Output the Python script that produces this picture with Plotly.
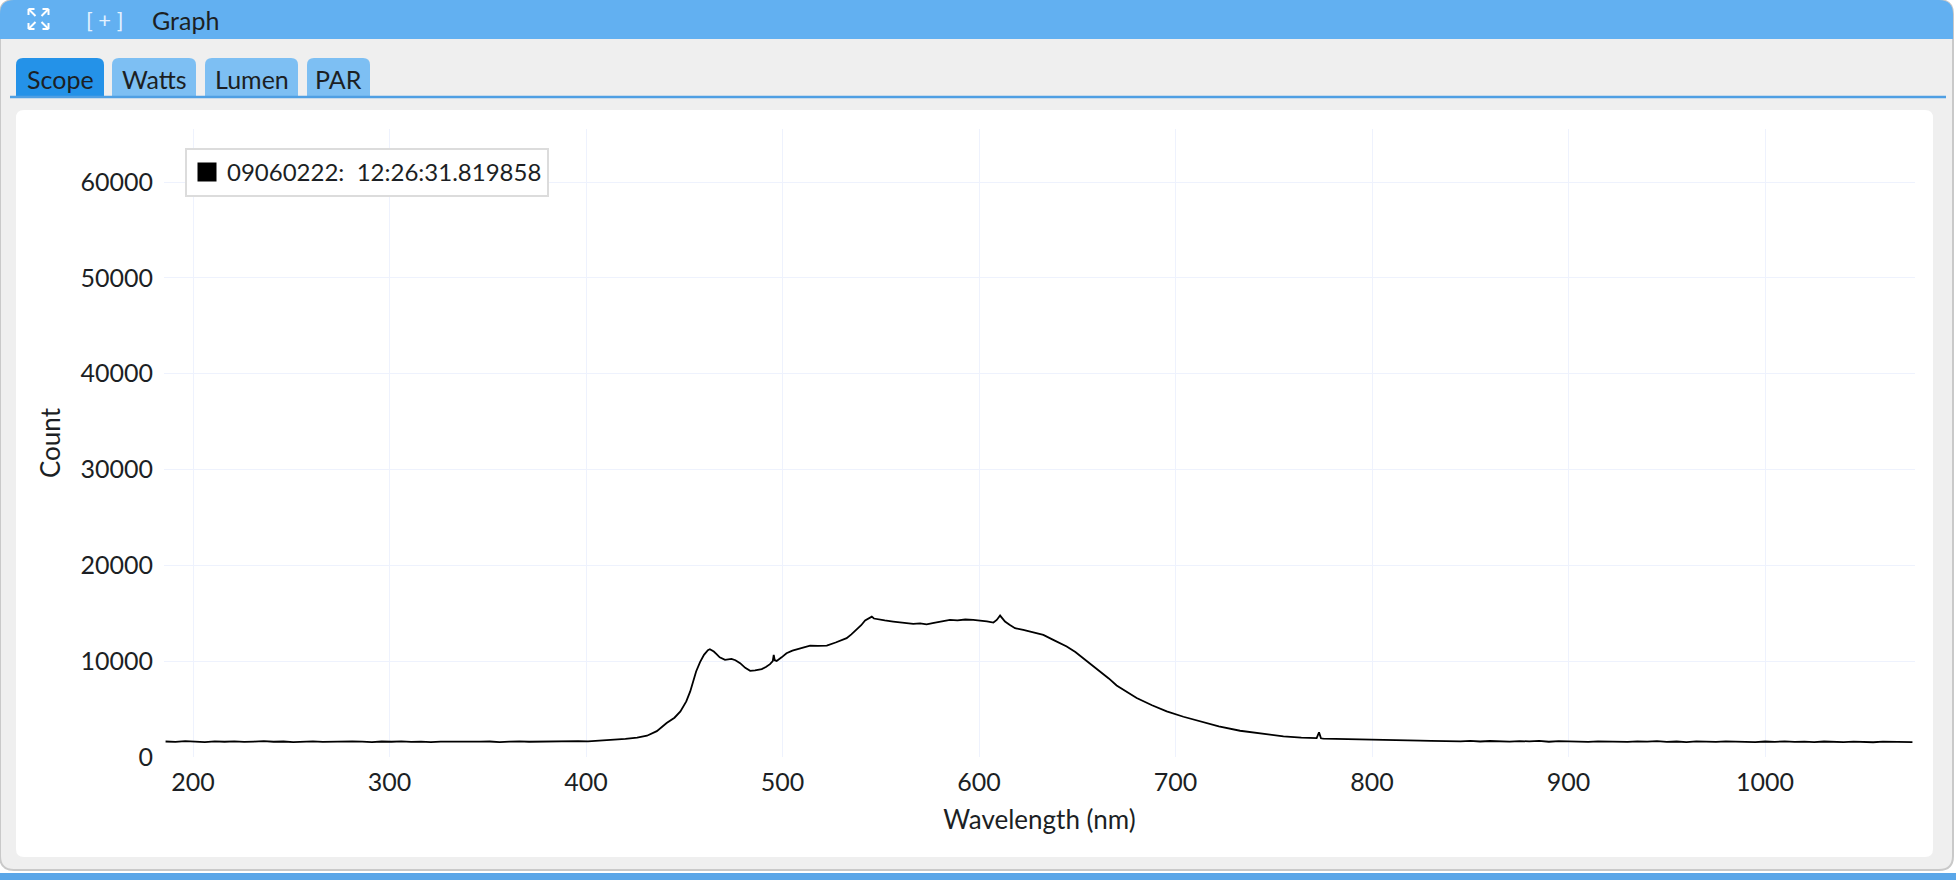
import plotly.graph_objects as go

# ── spectrum (wavelength nm, detector count) ─────────────────────────────────
BASE_LEFT_NM = [186, 191, 196, 201, 206, 211, 216, 221, 226, 231, 236, 241,
                246, 251, 256, 261, 266, 271, 276, 281, 286, 291, 296, 301,
                306, 311, 316, 321, 326, 331, 336, 341, 346, 351, 356, 361,
                366, 371, 376, 381, 386, 391, 396, 401]
BASE_LEFT_CT = [1620, 1580, 1650, 1600, 1560, 1630, 1590, 1640, 1570, 1610,
                1660, 1590, 1620, 1550, 1600, 1640, 1580, 1610, 1570, 1630,
                1600, 1560, 1620, 1590, 1640, 1580, 1600, 1550, 1610, 1590,
                1630, 1570, 1600, 1620, 1560, 1600, 1640, 1590, 1610, 1580,
                1620, 1600, 1650, 1630]

PEAK_NM = [407, 414, 420, 426, 431, 436, 441, 445, 448, 451, 453, 456, 458,
           460, 462, 463, 465, 466.4, 468, 470.7, 474, 476, 478.4, 481, 483.5,
           486, 489.4, 491.5, 493.6, 495, 495.5, 496, 497, 499.5, 502, 505,
           508.9, 511, 514, 518, 522.5, 527, 532.6, 535, 537.7, 540, 542, 544,
           545.4, 546.5, 548, 552, 556.3, 561, 566.5, 570, 573.3, 577, 581,
           585.2, 589, 593, 597, 601, 604, 607.3, 609, 610.7, 612, 613.2,
           615.5, 618.3, 622.5, 627, 632.7, 638, 644.6, 649, 653.1, 657, 661.6,
           666, 670, 675, 680.2, 688, 695.5, 704, 712.5, 722, 732.8, 744, 754.9,
           764, 771.8, 773, 774, 775.2, 786, 797.2, 810, 824.4]
PEAK_CT = [1700, 1780, 1900, 2030, 2220, 2700, 3540, 4100, 4760, 5800, 6840,
           8920, 9900, 10660, 11150, 11250, 11000, 10730, 10400, 10140, 10240,
           10100, 9790, 9300, 8990, 9050, 9170, 9400, 9690, 10000, 10660, 10100,
           10030, 10400, 10830, 11100, 11350, 11450, 11630, 11600, 11630, 11950,
           12400, 12800, 13260, 13750, 14240, 14450, 14650, 14450, 14380, 14250,
           14130, 14000, 13890, 13950, 13850, 14000, 14150, 14300, 14250, 14350,
           14300, 14250, 14150, 14030, 14300, 14760, 14400, 14130, 13800, 13440,
           13260, 13050, 12740, 12200, 11530, 10950, 10310, 9650, 8930, 8200,
           7470, 6800, 6150, 5400, 4760, 4200, 3720, 3200, 2740, 2420, 2160,
           2030, 1980, 2570, 1950, 1910, 1850, 1800, 1750, 1700]

BASE_RIGHT_NM = [830, 835, 840, 845, 850, 855, 860, 865, 870, 875, 880, 885,
                 890, 895, 900, 905, 910, 915, 920, 925, 930, 935, 940, 945,
                 950, 955, 960, 965, 970, 975, 980, 985, 990, 995, 1000, 1005,
                 1010, 1015, 1020, 1025, 1030, 1035, 1040, 1045, 1050, 1055,
                 1060, 1065, 1070, 1075]
BASE_RIGHT_CT = [1690, 1660, 1700, 1640, 1680, 1620, 1670, 1650, 1600, 1660,
                 1630, 1680, 1590, 1650, 1620, 1660, 1580, 1640, 1610, 1650,
                 1570, 1630, 1600, 1650, 1580, 1620, 1560, 1640, 1600, 1570,
                 1630, 1590, 1610, 1560, 1620, 1580, 1640, 1570, 1600, 1550,
                 1620, 1590, 1560, 1610, 1580, 1540, 1600, 1570, 1590, 1550]

WAVELENGTH = BASE_LEFT_NM + PEAK_NM + BASE_RIGHT_NM
COUNT = BASE_LEFT_CT + PEAK_CT + BASE_RIGHT_CT

LEGEND_NAME = "09060222:  12:26:31.819858"
TABS = ["Scope", "Watts", "Lumen", "PAR"]
X_TICKS = [200, 300, 400, 500, 600, 700, 800, 900, 1000]
Y_TICKS = [0, 10000, 20000, 30000, 40000, 50000, 60000]

# ── page geometry (pixels) ───────────────────────────────────────────────────
W, H = 1956, 880
ML, MR, MT, MB = 164, 41, 129, 123
PW, PH = W - ML - MR, H - MT - MB
FONT = "Lato"
TXT = "#1c1f24"


def px(x):
    return (x - ML) / PW


def py(y):
    return 1 - (y - MT) / PH


def rrect(x0, y0, x1, y1, r, top_only=False):
    # rounded rectangle path in paper coords
    X0, X1, Y0, Y1 = px(x0), px(x1), py(y0), py(y1)
    rx, ry = r / PW, r / PH
    if top_only:
        return (f"M{X0},{Y1} L{X0},{Y0 - ry} Q{X0},{Y0} {X0 + rx},{Y0} "
                f"L{X1 - rx},{Y0} Q{X1},{Y0} {X1},{Y0 - ry} L{X1},{Y1} Z")
    return (f"M{X0},{Y1 + ry} L{X0},{Y0 - ry} Q{X0},{Y0} {X0 + rx},{Y0} "
            f"L{X1 - rx},{Y0} Q{X1},{Y0} {X1},{Y0 - ry} L{X1},{Y1 + ry} "
            f"Q{X1},{Y1} {X1 - rx},{Y1} L{X0 + rx},{Y1} Q{X0},{Y1} {X0},{Y1 + ry} Z")


shapes = []


def add_path(path, fill, line_color=None, width=0):
    shapes.append(dict(type="path", path=path, xref="paper", yref="paper",
                       fillcolor=fill, layer="below",
                       line=dict(color=line_color or fill, width=width)))


def add_line(x0, y0, x1, y1, color, width):
    shapes.append(dict(type="line", xref="paper", yref="paper",
                       x0=px(x0), y0=py(y0), x1=px(x1), y1=py(y1),
                       layer="below", line=dict(color=color, width=width)))


# window frame
add_path(rrect(0, 0, 1953, 870, 14), "#efefef", "#c9c9c9", 2)
# header bar
add_path(rrect(0, 0, 1953, 39, 14, top_only=True), "#62b0f1")
# tabs
tab_x = [(16, 104), (112, 196), (205, 298), (307, 370)]
for k, (a, b) in enumerate(tab_x):
    add_path(rrect(a, 58, b, 97, 7, top_only=True),
             "#2492e8" if k == 0 else "#7dbff3")
add_line(10, 97, 1946, 97, "#4f9fe3", 2.5)
# white card
add_path(rrect(16, 110, 1933, 857, 8), "#ffffff")
# next panel header peeking at the bottom
add_path(rrect(0, 873, 1956, 884, 0), "#5aa6e8")
# expand icon (four corner arrows)
cx, cy = 38.5, 19
for sx in (-1, 1):
    for sy in (-1, 1):
        tx, ty = cx + sx * 10, cy + sy * 10
        add_line(cx + sx * 3, cy + sy * 3, tx, ty, "#ffffff", 2)
        add_line(tx, ty, tx - sx * 6, ty, "#ffffff", 2)
        add_line(tx, ty, tx, ty - sy * 6, "#ffffff", 2)

annotations = [
    dict(text="[ + ]", x=px(105), y=py(20), xanchor="center",
         font=dict(family=FONT, size=22, color="#e3f1ff")),
    dict(text="Graph", x=px(150), y=py(20), xanchor="left",
         font=dict(family=FONT, size=25, color=TXT)),
]
for name, (a, b) in zip(TABS, tab_x):
    annotations.append(dict(text=name, x=px((a + b) / 2), y=py(79),
                            xanchor="center",
                            font=dict(family=FONT, size=25, color=TXT)))
for a in annotations:
    a.update(xref="paper", yref="paper", yanchor="middle", showarrow=False)

fig = go.Figure()
fig.add_trace(go.Scatter(
    x=WAVELENGTH, y=COUNT, mode="lines", showlegend=False,
    line=dict(color="#000000", width=1.8),
))
# legend entry drawn as a filled square
fig.add_trace(go.Scatter(
    x=[None], y=[None], mode="markers", name=LEGEND_NAME,
    marker=dict(symbol="square", size=16, color="#000000",
                line=dict(color="#000000", width=3)),
))

fig.update_layout(
    width=W, height=H,
    margin=dict(l=ML, r=MR, t=MT, b=MB),
    paper_bgcolor="#ffffff",
    plot_bgcolor="#eaf0fc",
    font=dict(family=FONT, size=25, color=TXT),
    shapes=shapes,
    annotations=annotations,
    showlegend=True,
    legend=dict(x=px(185), y=py(148), xanchor="left", yanchor="top",
                bgcolor="#ffffff", bordercolor="#dcdcdc", borderwidth=2,
                font=dict(family=FONT, size=24, color=TXT),
                itemwidth=30),
    xaxis=dict(range=[185.2, 1076.3], tickvals=X_TICKS,
               ticktext=[str(v) for v in X_TICKS],
               gridcolor="#eef2fd", gridwidth=1, zeroline=False,
               ticks="", ticklabelstandoff=8,
               title=dict(text="Wavelength (nm)", standoff=15,
                          font=dict(size=26))),
    yaxis=dict(range=[0, 65535], tickvals=Y_TICKS,
               ticktext=[str(v) for v in Y_TICKS],
               gridcolor="#eef2fd", gridwidth=1, zeroline=False,
               ticks="", ticklabelstandoff=10,
               title=dict(text="Count", standoff=12, font=dict(size=26))),
)

fig.write_html("out.html", config={"displayModeBar": False},
               post_script="document.body.style.margin='0';"
                           "document.body.style.overflow='hidden';")
